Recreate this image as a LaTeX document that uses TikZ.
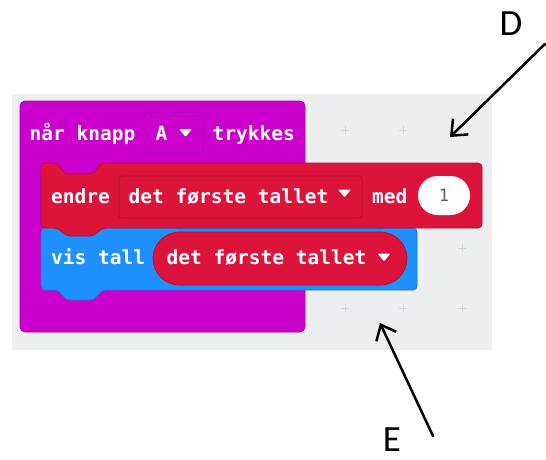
\documentclass[tikz,border=0pt]{standalone}
\usepackage{fontspec}
\setmainfont{Carlito}
\newfontfamily\blockfont{DejaVu Sans Mono}
\usetikzlibrary{arrows.meta}

\definecolor{workspace}{HTML}{ECEEF0}
\definecolor{plusgrey}{HTML}{D2D5D9}
\definecolor{inputpurple}{HTML}{CC00CC}
\definecolor{inputedge}{HTML}{A300A3}
\definecolor{varred}{HTML}{DC143C}
\definecolor{varedge}{HTML}{B0102F}
\definecolor{basicblue}{HTML}{1E90FF}
\definecolor{basicedge}{HTML}{1A75D0}
\definecolor{numgrey}{HTML}{575E75}

\tikzset{
  blocktext/.style={font=\blockfont\bfseries\fontsize{19.5}{20}\selectfont,
    text=white, inner sep=0pt, anchor=base west},
  numtext/.style={font=\blockfont\fontsize{17}{17}\selectfont,
    text=numgrey, inner sep=0pt},
  letter/.style={font=\fontsize{37}{37}\selectfont, inner sep=0pt},
  pointer/.style={line width=2.5pt, line cap=round,
    -{Straight Barb[length=13pt,width=22pt,line width=2.5pt]}},
  plusmark/.style={draw=plusgrey, line width=0.8pt},
}
% small downward dropdown triangle centred on a coordinate
\newcommand\droptri[2]{\fill[white, rounded corners=0.8pt, shift={(#1)}]
  (-#2,-3.8) -- (#2,-3.8) -- (0,3.8) -- cycle;}
\newcommand\plusat[1]{\draw[plusmark, shift={(#1)}] (-4,0) -- (4,0) (0,-4) -- (0,4);}

\begin{document}
\begin{tikzpicture}[x=1pt, y=-1pt]
\useasboundingbox (0,0) rectangle (546,459);

% workspace
\fill[workspace] (12,94) rectangle (492,350);
\plusat{345,130}
\plusat{403,130}
\plusat{462,248}
\plusat{345,308}
\plusat{403,308}
\plusat{462,308}

% event block (C-shape, inner part covered by the statements)
\filldraw[fill=inputpurple, draw=inputedge, line width=0.8pt, rounded corners=5pt]
  (20,101) rectangle (305,332);
\node[draw=inputedge, fill=inputpurple, line width=0.8pt, rounded corners=3pt,
  minimum width=58pt, minimum height=41pt, inner sep=0pt] (btnbox) at (174,132.5) {};
\node[blocktext] (naar) at (29.5,140.5) {når knapp};
\node[blocktext] (btn) at (155.5,140.5) {A};
\coordinate (btntri) at (185.5,133);
\droptri{btntri}{6.3}
\node[blocktext] (trykk) at (212.5,140.5) {trykkes};

% show number block
\filldraw[fill=basicblue, draw=basicedge, line width=0.8pt, rounded corners=4pt]
  (41,228) -- (417,228) -- (417,290) -- (102,290) -- (94,300) -- (66,300)
  -- (58,290) -- (41,290) -- cycle;

% change variable block
\filldraw[fill=varred, draw=varedge, line width=0.8pt, rounded corners=4pt]
  (41,163) -- (57,163) -- (65,174) -- (93,174) -- (101,163) -- (482,163)
  -- (482,228) -- (102,228) -- (94,236) -- (66,236) -- (58,228) -- (41,228) -- cycle;

\node[blocktext] (endre) at (51,203) {endre};
\node[draw=varedge, fill=varred, line width=0.8pt, rounded corners=3pt,
  minimum width=243pt, minimum height=42pt, inner sep=0pt] (varbox) at (240.5,197) {};
\node[blocktext] (varname) at (128.5,203) {det første tallet};
\coordinate (vartri) at (344.5,193.5);
\droptri{vartri}{6.3}
\node[blocktext] (med) at (372,203) {med};
\node[fill=white, rounded corners=19.5pt, minimum width=52pt, minimum height=39pt,
  inner sep=0pt] (numoval) at (444,195.5) {};
\node[numtext] (num) at (numoval) {1};

\node[blocktext] (vis) at (51,264) {vis tall};
\node[draw=varedge, fill=varred, line width=0.8pt, rounded corners=26.5pt,
  minimum width=254pt, minimum height=53pt, inner sep=0pt] (varpill) at (280,258.5) {};
\node[blocktext] (pillname) at (166.5,264) {det første tallet};
\coordinate (pilltri) at (384,257.5);
\droptri{pilltri}{6.3}

% callouts
\node[letter] (D) at (511,24) {D};
\node[letter] (E) at (392,440) {E};
\coordinate (dtail) at (545,44);
\coordinate (dtip) at (450,137);
\coordinate (etail) at (433,436);
\coordinate (etip) at (380,323);
\draw[pointer] (dtail) -- (dtip);
\draw[pointer] (etail) -- (etip);
\end{tikzpicture}
\end{document}
